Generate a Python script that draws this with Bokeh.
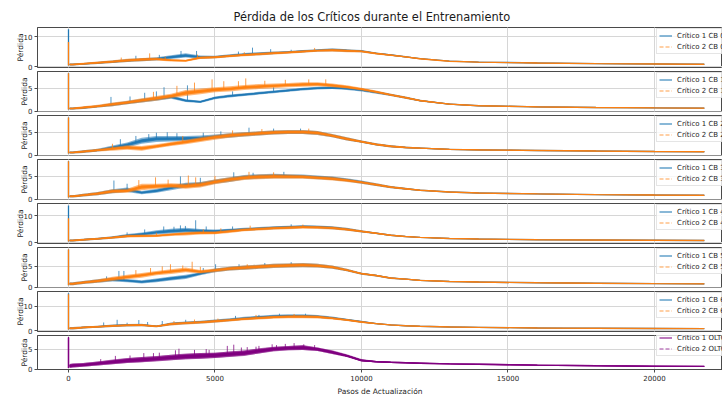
import numpy as np
from bokeh.embed import file_html
from bokeh.layouts import column
from bokeh.models import FixedTicker, Grid, Legend, LegendItem, Range1d
from bokeh.plotting import figure
from bokeh.resources import INLINE

# Update-step knots at which the loss envelope (low / high of the noisy trace) is given
STEPS = [0, 40, 150, 500, 1000, 1500, 2000, 2500, 3000, 3500, 4000,
         4500, 5000, 5500, 6000, 6500, 7000, 7500, 8000, 8500, 9000, 9500,
         10000, 10500, 11000, 11500, 12000, 13000, 14000, 16000, 18000, 20000, 21700]

PANEL_NAMES = ["CB 0", "CB 1", "CB 2", "CB 3", "CB 4", "CB 5", "CB 6", "OLTC"]
X_TICKS = [0, 5000, 10000, 15000, 20000]
Y_TICKS = [[0, 10], [0, 5], [0, 5], [0, 5], [0, 10], [0, 5], [0, 10], [0, 5]]

# ---- CB 0 ----
CB0_C1_LO = [0.5, 0.4, 0.4, 0.6, 0.9, 1.2, 1.5, 1.8, 2.0, 2.5, 3.0,
             2.6, 2.8, 3.2, 3.6, 3.8, 4.1, 4.4, 4.7, 5.0, 5.1, 4.9,
             4.8, 4.1, 3.6, 3.0, 2.5, 1.7, 1.4, 1.1, 0.9, 0.8, 0.7]
CB0_C1_HI = [12.4, 1.0, 1.0, 1.2, 1.6, 2.0, 2.5, 2.8, 3.1, 3.8, 4.4,
             3.7, 3.6, 4.1, 4.5, 4.8, 5.0, 5.2, 5.5, 5.8, 6.1, 5.8,
             5.5, 4.7, 4.1, 3.5, 2.8, 1.95, 1.6, 1.3, 1.1, 0.95, 0.85]
CB0_C2_LO = [0.5, 0.4, 0.4, 0.6, 0.9, 1.2, 1.5, 1.8, 2.0, 1.7, 1.6,
             2.5, 2.7, 3.1, 3.4, 3.7, 4.0, 4.3, 4.6, 4.9, 5.0, 4.8,
             4.7, 4.0, 3.5, 3.0, 2.4, 1.7, 1.4, 1.1, 0.9, 0.8, 0.7]
CB0_C2_HI = [8.2, 1.0, 1.0, 1.3, 1.7, 2.1, 2.6, 2.9, 3.0, 2.5, 2.3,
             3.4, 3.5, 3.9, 4.3, 4.6, 4.9, 5.1, 5.4, 5.7, 5.9, 5.7,
             5.4, 4.7, 4.1, 3.5, 2.8, 1.9, 1.55, 1.3, 1.1, 0.95, 0.85]
CB0_C1_SPK_X = [2300, 3100, 3840, 4370, 5800, 6280, 6900, 7600]
CB0_C1_SPK_Y = [3.6, 3.9, 5.2, 5.2, 5.0, 6.3, 5.8, 5.6]
CB0_C2_SPK_X = [1800, 2770, 3300, 4400, 6000, 8400]
CB0_C2_SPK_Y = [3.0, 4.4, 3.3, 4.0, 4.8, 6.2]

# ---- CB 1 ----
CB1_C1_LO = [0.5, 0.4, 0.4, 0.5, 0.8, 1.1, 1.5, 1.9, 2.3, 2.7, 2.0,
             1.8, 2.6, 3.0, 3.3, 3.6, 3.9, 4.2, 4.5, 4.7, 4.8, 4.6,
             4.3, 3.8, 3.3, 2.7, 2.1, 1.4, 1.1, 0.85, 0.75, 0.65, 0.6]
CB1_C1_HI = [8.2, 0.8, 0.8, 1.0, 1.3, 1.8, 2.2, 2.7, 3.1, 3.5, 2.6,
             2.3, 3.2, 3.6, 3.9, 4.2, 4.5, 4.8, 5.1, 5.3, 5.4, 5.2,
             4.9, 4.4, 3.8, 3.2, 2.5, 1.7, 1.3, 1.05, 0.9, 0.8, 0.75]
CB1_C2_LO = [0.5, 0.4, 0.4, 0.5, 0.8, 1.1, 1.5, 1.9, 2.3, 2.8, 3.3,
             3.7, 4.1, 4.3, 4.6, 4.8, 5.0, 5.2, 5.3, 5.4, 5.2, 4.9,
             4.5, 3.9, 3.3, 2.7, 2.1, 1.4, 1.1, 0.85, 0.75, 0.65, 0.6]
CB1_C2_HI = [8.2, 0.8, 0.8, 1.1, 1.4, 1.9, 2.3, 2.8, 3.3, 3.8, 4.6,
             4.9, 5.2, 5.4, 5.7, 5.9, 6.0, 6.1, 6.3, 6.3, 6.0, 5.6,
             5.1, 4.5, 3.8, 3.2, 2.5, 1.7, 1.3, 1.05, 0.9, 0.8, 0.75]
CB1_C1_SPK_X = [1450, 2100, 2600, 3000, 3260, 4060, 5600, 7000]
CB1_C1_SPK_Y = [3.1, 3.2, 4.0, 4.3, 5.2, 5.6, 4.3, 5.2]
CB1_C2_SPK_X = [2900, 3700, 4300, 4900, 5300, 5800, 6050, 6700, 7400, 8200, 8780]
CB1_C2_SPK_Y = [4.2, 5.5, 6.2, 6.9, 6.5, 6.5, 7.1, 6.6, 6.8, 6.9, 6.9]

# ---- CB 2 ----
CB2_C1_LO = [0.5, 0.4, 0.4, 0.5, 0.8, 1.2, 1.7, 2.5, 2.9, 3.0, 3.1,
             3.2, 3.6, 3.8, 4.1, 4.3, 4.5, 4.6, 4.6, 4.4, 3.9, 3.2,
             2.7, 2.1, 1.7, 1.5, 1.4, 1.15, 1.05, 0.95, 0.85, 0.75, 0.7]
CB2_C1_HI = [8.2, 0.8, 0.8, 1.1, 1.4, 2.1, 2.8, 3.8, 4.2, 4.2, 4.2,
             4.3, 4.5, 4.8, 5.0, 5.2, 5.4, 5.5, 5.5, 5.3, 4.6, 3.9,
             3.2, 2.6, 2.2, 1.9, 1.7, 1.4, 1.3, 1.15, 1.0, 0.9, 0.85]
CB2_C2_LO = [0.5, 0.4, 0.4, 0.5, 0.8, 1.0, 1.2, 1.0, 1.5, 2.0, 2.4,
             2.9, 3.4, 3.8, 4.1, 4.3, 4.5, 4.6, 4.6, 4.4, 3.9, 3.2,
             2.7, 2.1, 1.7, 1.5, 1.4, 1.15, 1.05, 0.95, 0.85, 0.75, 0.7]
CB2_C2_HI = [8.2, 0.8, 0.8, 1.1, 1.4, 1.8, 2.2, 2.0, 2.4, 2.9, 3.4,
             3.9, 4.4, 4.8, 5.0, 5.2, 5.4, 5.5, 5.5, 5.3, 4.6, 3.9,
             3.2, 2.6, 2.2, 1.9, 1.7, 1.4, 1.3, 1.15, 1.0, 0.9, 0.85]
CB2_C1_SPK_X = [1770, 2300, 2740, 3000, 3370, 3700, 4600, 5200, 6160, 7000, 7920]
CB2_C1_SPK_Y = [3.5, 4.2, 4.6, 4.9, 5.0, 4.8, 4.9, 5.2, 6.0, 5.8, 5.8]
CB2_C2_SPK_X = [1500, 3900, 5600, 6600, 8200]
CB2_C2_SPK_Y = [2.5, 4.2, 5.4, 5.7, 5.8]

# ---- CB 3 ----
CB3_C1_LO = [0.5, 0.4, 0.4, 0.6, 0.9, 1.3, 1.6, 1.1, 1.4, 2.0, 2.6,
             2.8, 3.4, 3.8, 4.3, 4.5, 4.6, 4.6, 4.6, 4.4, 4.2, 3.9,
             3.4, 2.9, 2.4, 2.1, 1.85, 1.5, 1.3, 1.1, 0.95, 0.85, 0.8]
CB3_C1_HI = [8.3, 0.9, 0.9, 1.2, 1.6, 2.2, 2.6, 1.8, 2.3, 3.0, 3.6,
             3.8, 4.3, 4.8, 5.3, 5.5, 5.6, 5.5, 5.4, 5.2, 5.0, 4.6,
             4.1, 3.5, 2.9, 2.5, 2.1, 1.7, 1.45, 1.25, 1.1, 1.0, 0.95]
CB3_C2_LO = [0.5, 0.4, 0.4, 0.6, 0.9, 1.3, 1.4, 2.0, 2.3, 2.5, 2.3,
             2.6, 3.3, 3.8, 4.2, 4.4, 4.5, 4.5, 4.5, 4.3, 4.1, 3.8,
             3.4, 2.9, 2.4, 2.1, 1.85, 1.5, 1.3, 1.1, 0.95, 0.85, 0.8]
CB3_C2_HI = [8.3, 0.9, 0.9, 1.2, 1.6, 2.2, 2.3, 3.4, 3.4, 3.5, 3.4,
             3.7, 4.3, 4.8, 5.2, 5.4, 5.5, 5.4, 5.3, 5.1, 4.9, 4.5,
             4.0, 3.5, 2.9, 2.5, 2.1, 1.7, 1.45, 1.25, 1.1, 1.0, 0.95]
CB3_C1_SPK_X = [1550, 2000, 3820, 4500, 5640, 6300, 7350]
CB3_C1_SPK_Y = [4.1, 3.4, 5.0, 4.7, 5.9, 5.8, 6.0]
CB3_C2_SPK_X = [2400, 2970, 3400, 4090, 4340, 5000, 6160, 7000]
CB3_C2_SPK_Y = [4.2, 4.8, 4.3, 5.2, 4.8, 5.1, 6.0, 5.9]

# ---- CB 4 ----
CB4_C1_LO = [0.5, 0.4, 0.4, 0.7, 1.1, 1.5, 2.0, 2.5, 3.0, 3.4, 3.7,
             3.6, 3.6, 4.0, 4.4, 4.7, 5.0, 5.2, 5.4, 5.3, 5.0, 4.5,
             3.8, 3.2, 2.5, 2.1, 1.8, 1.45, 1.25, 1.0, 0.9, 0.8, 0.75]
CB4_C1_HI = [13.8, 1.2, 1.2, 1.5, 1.8, 2.4, 3.2, 3.8, 4.6, 5.2, 5.5,
             5.1, 4.9, 5.2, 5.5, 5.8, 6.1, 6.3, 6.5, 6.4, 6.1, 5.5,
             4.6, 3.8, 3.0, 2.5, 2.1, 1.7, 1.45, 1.2, 1.05, 0.95, 0.9]
CB4_C2_LO = [0.5, 0.4, 0.4, 0.7, 1.1, 1.5, 1.9, 2.0, 2.1, 2.5, 2.7,
             3.0, 3.1, 3.6, 4.2, 4.5, 4.8, 5.0, 5.2, 5.1, 4.9, 4.4,
             3.8, 3.2, 2.5, 2.1, 1.8, 1.45, 1.25, 1.0, 0.9, 0.8, 0.75]
CB4_C2_HI = [9.0, 1.2, 1.2, 1.5, 1.8, 2.3, 2.9, 3.0, 3.0, 3.5, 4.0,
             4.2, 4.2, 4.8, 5.3, 5.6, 5.9, 6.1, 6.3, 6.2, 6.0, 5.4,
             4.6, 3.8, 3.0, 2.5, 2.1, 1.7, 1.45, 1.2, 1.05, 0.95, 0.9]
CB4_C1_SPK_X = [2000, 2600, 3250, 3600, 3820, 3990, 4340, 4700, 5600, 7600]
CB4_C1_SPK_Y = [3.8, 4.9, 6.0, 5.9, 6.4, 6.2, 8.3, 6.0, 6.0, 6.8]
CB4_C2_SPK_X = [3000, 4600, 5200, 6200, 8000]
CB4_C2_SPK_Y = [3.7, 5.0, 5.3, 6.3, 6.7]

# ---- CB 5 ----
CB5_C1_LO = [0.5, 0.5, 0.5, 0.8, 1.1, 1.4, 1.2, 0.9, 1.2, 1.6, 2.0,
             2.9, 3.6, 4.0, 4.2, 4.4, 4.6, 4.7, 4.8, 4.7, 4.4, 3.8,
             3.0, 2.6, 2.0, 1.8, 1.5, 1.3, 1.15, 1.0, 0.9, 0.8, 0.75]
CB5_C1_HI = [9.0, 1.2, 1.2, 1.5, 1.9, 2.3, 2.0, 1.7, 2.1, 2.6, 3.0,
             3.6, 4.5, 4.9, 5.2, 5.4, 5.6, 5.7, 5.8, 5.6, 5.2, 4.4,
             3.5, 3.0, 2.4, 2.1, 1.8, 1.5, 1.35, 1.15, 1.05, 0.95, 0.9]
CB5_C2_LO = [0.5, 0.5, 0.5, 0.8, 1.1, 1.5, 1.9, 2.3, 2.9, 3.2, 3.6,
             3.3, 3.6, 4.0, 4.2, 4.4, 4.6, 4.7, 4.8, 4.7, 4.4, 3.8,
             3.0, 2.6, 2.0, 1.8, 1.5, 1.3, 1.15, 1.0, 0.9, 0.8, 0.75]
CB5_C2_HI = [9.0, 1.2, 1.2, 1.5, 1.9, 2.5, 3.0, 3.4, 3.9, 4.3, 4.7,
             4.1, 4.5, 4.9, 5.2, 5.4, 5.6, 5.7, 5.8, 5.6, 5.2, 4.4,
             3.5, 3.0, 2.4, 2.1, 1.8, 1.5, 1.35, 1.15, 1.05, 0.95, 0.9]
CB5_C1_SPK_X = [1300, 1720, 1890, 4600, 5020, 5820, 6700, 7600]
CB5_C1_SPK_Y = [2.6, 3.9, 3.9, 4.6, 5.5, 5.5, 5.8, 6.0]
CB5_C2_SPK_X = [2300, 2800, 3200, 3480, 3900, 4220, 4500, 6100]
CB5_C2_SPK_Y = [4.1, 4.6, 5.0, 5.5, 5.2, 6.1, 4.9, 5.5]

# ---- CB 6 ----
CB6_C1_LO = [0.5, 0.5, 0.5, 0.9, 1.2, 1.5, 1.8, 1.9, 1.4, 2.3, 2.7,
             3.0, 3.4, 3.9, 4.5, 4.9, 5.2, 5.4, 5.4, 5.2, 4.8, 4.1,
             3.3, 2.7, 2.2, 1.9, 1.7, 1.45, 1.3, 1.05, 0.95, 0.85, 0.8]
CB6_C1_HI = [15.4, 1.5, 1.5, 1.8, 2.1, 2.6, 2.8, 2.9, 2.2, 3.4, 3.8,
             4.1, 4.6, 5.1, 5.7, 6.2, 6.6, 6.8, 6.8, 6.5, 5.8, 4.9,
             4.1, 3.2, 2.6, 2.2, 2.0, 1.7, 1.5, 1.25, 1.1, 1.0, 0.95]
CB6_C2_LO = [0.5, 0.5, 0.5, 0.9, 1.2, 1.5, 1.8, 1.9, 1.4, 2.2, 2.6,
             2.9, 3.3, 3.8, 4.3, 4.6, 4.9, 5.1, 5.1, 5.0, 4.6, 4.0,
             3.2, 2.7, 2.2, 1.9, 1.7, 1.45, 1.3, 1.05, 0.95, 0.85, 0.8]
CB6_C2_HI = [15.0, 1.5, 1.5, 1.8, 2.1, 2.5, 2.7, 2.8, 2.2, 3.3, 3.7,
             4.0, 4.5, 4.9, 5.4, 5.8, 6.2, 6.4, 6.5, 6.3, 5.6, 4.8,
             4.0, 3.2, 2.6, 2.2, 2.0, 1.7, 1.5, 1.25, 1.1, 1.0, 0.95]
CB6_C1_SPK_X = [1200, 1660, 2000, 2400, 2700, 3200, 4000, 5700, 6500, 7200, 8090]
CB6_C1_SPK_Y = [3.4, 4.5, 3.3, 4.4, 3.6, 4.0, 4.5, 6.1, 6.5, 7.0, 7.0]
CB6_C2_SPK_X = [3600, 4300, 5100, 6400, 7700]
CB6_C2_SPK_Y = [4.0, 4.6, 5.0, 6.5, 6.9]

# ---- OLTC ----
OLTC_C1_LO = [0.4, 0.3, 0.4, 0.6, 0.9, 1.2, 1.5, 1.7, 1.9, 2.2, 2.4,
              2.6, 2.8, 3.0, 3.3, 3.9, 4.5, 4.7, 4.8, 4.5, 3.8, 3.0,
              1.9, 1.7, 1.55, 1.45, 1.35, 1.2, 1.1, 0.9, 0.75, 0.65, 0.6]
OLTC_C1_HI = [8.0, 1.3, 1.4, 1.5, 1.9, 2.4, 2.8, 3.0, 3.3, 3.6, 3.9,
              4.0, 4.1, 4.4, 4.7, 5.2, 5.6, 5.8, 6.0, 5.4, 4.7, 3.7,
              2.5, 2.0, 1.85, 1.7, 1.6, 1.4, 1.3, 1.1, 0.9, 0.8, 0.75]
OLTC_C2_LO = [0.4, 0.3, 0.4, 0.6, 0.9, 1.2, 1.5, 1.7, 2.0, 2.2, 2.5,
              2.6, 2.8, 3.1, 3.4, 3.9, 4.4, 4.7, 4.8, 4.5, 3.8, 3.0,
              1.9, 1.7, 1.55, 1.45, 1.35, 1.2, 1.1, 0.9, 0.75, 0.65, 0.6]
OLTC_C2_HI = [7.8, 1.3, 1.4, 1.5, 1.9, 2.3, 2.7, 3.0, 3.2, 3.6, 3.8,
              4.0, 4.1, 4.4, 4.6, 5.1, 5.5, 5.8, 5.9, 5.4, 4.6, 3.6,
              2.4, 2.0, 1.85, 1.7, 1.6, 1.4, 1.3, 1.1, 0.9, 0.8, 0.75]
OLTC_C1_SPK_X = [1100, 1600, 2100, 2570, 3100, 3650, 3770, 4300, 4700, 5420,
                 5640, 6100, 6500, 6950, 7400, 7700, 8030, 8400]
OLTC_C1_SPK_Y = [2.5, 3.3, 3.4, 4.0, 4.1, 4.7, 5.1, 4.8, 5.0, 5.8,
                 6.1, 5.5, 5.8, 6.2, 6.3, 6.5, 6.2, 6.0]
OLTC_C2_SPK_X = [2900, 4800, 5900, 6400, 7100]
OLTC_C2_SPK_Y = [4.0, 4.8, 5.4, 5.6, 6.0]

SERIES = [
    (CB0_C1_LO, CB0_C1_HI, CB0_C1_SPK_X, CB0_C1_SPK_Y, CB0_C2_LO, CB0_C2_HI, CB0_C2_SPK_X, CB0_C2_SPK_Y),
    (CB1_C1_LO, CB1_C1_HI, CB1_C1_SPK_X, CB1_C1_SPK_Y, CB1_C2_LO, CB1_C2_HI, CB1_C2_SPK_X, CB1_C2_SPK_Y),
    (CB2_C1_LO, CB2_C1_HI, CB2_C1_SPK_X, CB2_C1_SPK_Y, CB2_C2_LO, CB2_C2_HI, CB2_C2_SPK_X, CB2_C2_SPK_Y),
    (CB3_C1_LO, CB3_C1_HI, CB3_C1_SPK_X, CB3_C1_SPK_Y, CB3_C2_LO, CB3_C2_HI, CB3_C2_SPK_X, CB3_C2_SPK_Y),
    (CB4_C1_LO, CB4_C1_HI, CB4_C1_SPK_X, CB4_C1_SPK_Y, CB4_C2_LO, CB4_C2_HI, CB4_C2_SPK_X, CB4_C2_SPK_Y),
    (CB5_C1_LO, CB5_C1_HI, CB5_C1_SPK_X, CB5_C1_SPK_Y, CB5_C2_LO, CB5_C2_HI, CB5_C2_SPK_X, CB5_C2_SPK_Y),
    (CB6_C1_LO, CB6_C1_HI, CB6_C1_SPK_X, CB6_C1_SPK_Y, CB6_C2_LO, CB6_C2_HI, CB6_C2_SPK_X, CB6_C2_SPK_Y),
    (OLTC_C1_LO, OLTC_C1_HI, OLTC_C1_SPK_X, OLTC_C1_SPK_Y, OLTC_C2_LO, OLTC_C2_HI, OLTC_C2_SPK_X, OLTC_C2_SPK_Y),
]

# ---- layout / style ----
TITLE = "Pérdida de los Críticos durante el Entrenamiento"
FONT = "DejaVu Sans"
TEXT = "#262626"
SPINE = "#4a4a4a"
GRID = "#d6d6d6"
Y_LIMITS = [(-0.3, 13.0), (-0.05, 8.6), (-0.05, 8.65), (-0.05, 8.7),
            (-0.3, 14.5), (-0.05, 9.5), (-0.3, 16.1), (-0.1, 8.4)]
COLORS = [("#1f77b4", "#ff7f0e")] * 7 + [("#800080", "#800080")]
WIDTH = 722
FRAME_H = 40
GAP = 4
TITLE_H = 27
AXIS_H = 23
LEFT = 37

x_range = Range1d(-1058, 22321)
steps = np.array(STEPS, dtype=float)


def draw_series(p, lo, hi, spk_x, spk_y, color):
    lo = np.asarray(lo, dtype=float)
    hi = np.asarray(hi, dtype=float)
    mid = (lo + hi) / 2
    half = (hi - lo) / 2
    # faint outer envelope of the noisy trace, denser core around its centre
    p.varea(x=steps[1:], y1=lo[1:], y2=hi[1:], fill_color=color, fill_alpha=0.55)
    p.varea(x=steps[1:], y1=(mid - 0.55 * half)[1:], y2=(mid + 0.55 * half)[1:],
            fill_color=color, fill_alpha=0.85)
    p.line(x=steps[1:], y=mid[1:], line_color=color, line_width=1.4, line_alpha=0.95)
    # initial loss spike at the first update
    p.segment(x0=[steps[0]], y0=[lo[1]], x1=[steps[0]], y1=[hi[0]],
              line_color=color, line_width=1.3)
    sx = np.asarray(spk_x, dtype=float)
    base = np.interp(sx, steps, mid)
    p.segment(x0=sx, y0=base, x1=sx, y1=spk_y, line_color=color,
              line_width=0.9, line_alpha=0.85)


figs = []
n = len(PANEL_NAMES)
for i, name in enumerate(PANEL_NAMES):
    first, last = i == 0, i == n - 1
    top = TITLE_H if first else 0
    bottom = AXIS_H if last else GAP
    p = figure(width=WIDTH, height=FRAME_H + top + bottom,
               x_range=x_range, y_range=Range1d(*Y_LIMITS[i]),
               output_backend="svg", toolbar_location=None,
               x_axis_location="below" if last else None,
               min_border_left=LEFT, min_border_right=0,
               min_border_top=top, min_border_bottom=bottom)
    p.background_fill_color = "white"
    p.border_fill_color = "white"
    p.outline_line_color = SPINE
    p.outline_line_width = 1

    if first:
        p.title.text = TITLE
        p.title.text_font = FONT
        p.title.text_font_size = "11.4px"
        p.title.text_font_style = "normal"
        p.title.text_color = "#1a1a1a"
        p.title.align = "left"
        p.title.offset = 196
        p.title.standoff = 8

    # y axis
    yax = p.yaxis[0]
    yax.ticker = FixedTicker(ticks=Y_TICKS[i])
    yax.axis_label = "Pérdida"
    yax.axis_label_text_font = FONT
    yax.axis_label_text_font_size = "7.5px"
    yax.axis_label_text_font_style = "normal"
    yax.axis_label_text_color = TEXT
    yax.axis_label_standoff = -4
    yax.major_label_text_font = FONT
    yax.major_label_text_font_size = "7px"
    yax.major_label_text_color = TEXT
    yax.major_label_standoff = 2
    yax.major_tick_out = 3
    yax.major_tick_in = 0
    yax.minor_tick_out = 0
    yax.minor_tick_in = 0
    yax.axis_line_color = SPINE
    yax.major_tick_line_color = SPINE
    p.ygrid.ticker = FixedTicker(ticks=Y_TICKS[i])
    p.ygrid.grid_line_color = GRID

    # x axis (only on the bottom panel) and vertical grid
    if last:
        xax = p.xaxis[0]
        xax.ticker = FixedTicker(ticks=X_TICKS)
        xax.axis_label = "Pasos de Actualización"
        xax.axis_label_text_font = FONT
        xax.axis_label_text_font_size = "7.5px"
        xax.axis_label_text_font_style = "normal"
        xax.axis_label_text_color = TEXT
        xax.axis_label_standoff = 3
        xax.major_label_text_font = FONT
        xax.major_label_text_font_size = "7px"
        xax.major_label_text_color = TEXT
        xax.major_label_standoff = 2
        xax.major_tick_out = 3
        xax.major_tick_in = 0
        xax.minor_tick_out = 0
        xax.minor_tick_in = 0
        xax.axis_line_color = SPINE
        xax.major_tick_line_color = SPINE
        p.xgrid.ticker = FixedTicker(ticks=X_TICKS)
        p.xgrid.grid_line_color = GRID
    else:
        p.add_layout(Grid(dimension=0, ticker=FixedTicker(ticks=X_TICKS),
                          grid_line_color=GRID))

    lo1, hi1, sx1, sy1, lo2, hi2, sx2, sy2 = SERIES[i]
    c1, c2 = COLORS[i]
    draw_series(p, lo1, hi1, sx1, sy1, c1)
    draw_series(p, lo2, hi2, sx2, sy2, c2)

    # legend swatches (glyphs carry no visible data)
    r1 = p.line(x=[np.nan], y=[np.nan], line_color=c1, line_width=1.5, line_alpha=0.7)
    r2 = p.line(x=[np.nan], y=[np.nan], line_color=c2, line_width=1.5, line_alpha=0.5,
                line_dash="4 2")
    legend = Legend(
        items=[LegendItem(label=f"Crítico 1 {name}", renderers=[r1]),
               LegendItem(label=f"Crítico 2 {name}", renderers=[r2])],
        location=(619, 13), orientation="vertical",
        label_text_font=FONT, label_text_font_size="7px", label_text_color=TEXT,
        glyph_width=13, glyph_height=9, label_height=9, label_standoff=5,
        spacing=2, padding=2, margin=0,
        border_line_color="#cccccc", border_line_width=1,
        background_fill_color="white", background_fill_alpha=0.8,
    )
    p.add_layout(legend)
    figs.append(p)

layout = column(*figs, spacing=0)
open("out.html", "w").write(file_html(layout, INLINE))
